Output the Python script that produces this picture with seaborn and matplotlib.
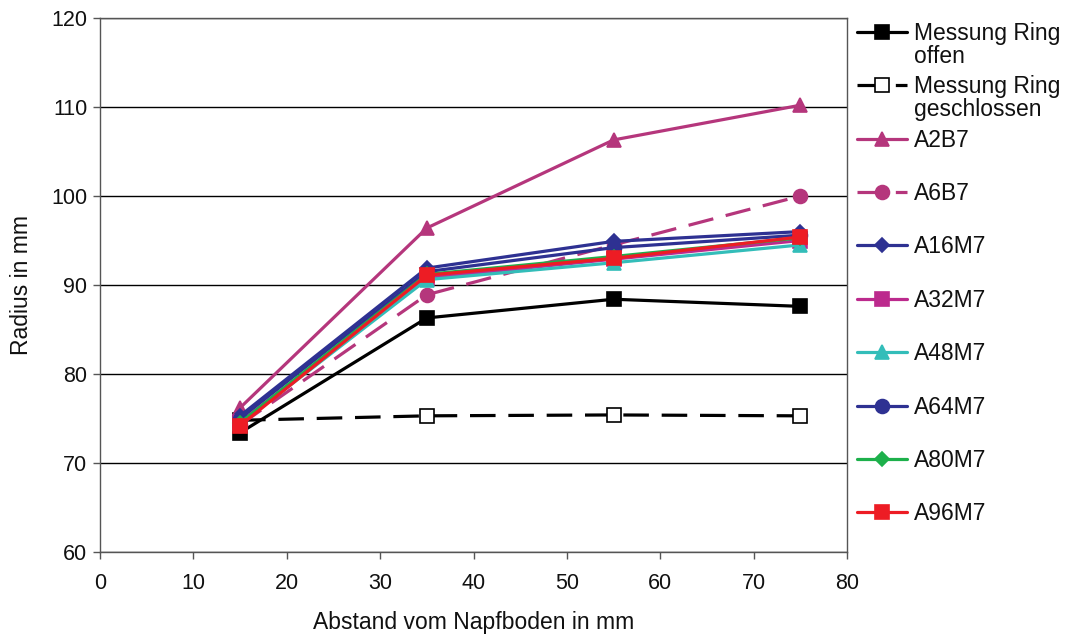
import matplotlib
matplotlib.use("Agg")
import matplotlib.pyplot as plt
import numpy as np
import pandas as pd
import seaborn as sns

# Measurement positions (distance from cup bottom, mm)
abstand = [15, 35, 55, 75]

# Radius values (mm) per series
ring_offen = [73.4, 86.3, 88.4, 87.6]
ring_geschlossen = [74.8, 75.3, 75.4, 75.3]
a2b7 = [76.2, 96.4, 106.3, 110.2]
a6b7 = [74.3, 88.9, 94.5, 100.0]
a16m7 = [75.3, 91.9, 94.9, 96.0]
a32m7 = [74.6, 90.8, 92.9, 95.0]
a48m7 = [74.4, 90.6, 92.5, 94.5]
a64m7 = [75.0, 91.5, 94.2, 95.6]
a80m7 = [74.5, 91.2, 93.2, 95.3]
a96m7 = [74.2, 91.1, 93.0, 95.4]

series_names = ["Messung Ring offen", "Messung Ring geschlossen", "A2B7", "A6B7",
                "A16M7", "A32M7", "A48M7", "A64M7", "A80M7", "A96M7"]
series_values = [ring_offen, ring_geschlossen, a2b7, a6b7, a16m7, a32m7,
                 a48m7, a64m7, a80m7, a96m7]

df = pd.DataFrame({
    "Abstand": np.tile(abstand, len(series_names)),
    "Radius": np.concatenate(series_values),
    "Serie": np.repeat(series_names, len(abstand)),
})

# Line/marker styling per series
LONG_DASH = (8, 4)
styles = {
    "Messung Ring offen": dict(color="#000000", marker="s", mfc="#000000", mec="#000000", ms=10, dashes=None),
    "Messung Ring geschlossen": dict(color="#000000", marker="s", mfc="white", mec="#000000", ms=10, dashes=LONG_DASH),
    "A2B7": dict(color="#B5367C", marker="^", mfc="#B5367C", mec="#B5367C", ms=10, dashes=None),
    "A6B7": dict(color="#B5367C", marker="o", mfc="#B5367C", mec="#B5367C", ms=10, dashes=LONG_DASH),
    "A16M7": dict(color="#2E3192", marker="D", mfc="#2E3192", mec="#2E3192", ms=7.5, dashes=None),
    "A32M7": dict(color="#BC2A8D", marker="s", mfc="#BC2A8D", mec="#BC2A8D", ms=9.5, dashes=None),
    "A48M7": dict(color="#33BDB9", marker="^", mfc="#33BDB9", mec="#33BDB9", ms=10, dashes=None),
    "A64M7": dict(color="#2E3192", marker="o", mfc="#2E3192", mec="#2E3192", ms=10, dashes=None),
    "A80M7": dict(color="#1DB04B", marker="D", mfc="#1DB04B", mec="#1DB04B", ms=7.5, dashes=None),
    "A96M7": dict(color="#ED1C24", marker="s", mfc="#ED1C24", mec="#ED1C24", ms=10, dashes=None),
}

sns.set_theme(style="white")
plt.rcParams["font.family"] = ["Liberation Sans", "DejaVu Sans"]

W, H = 1071, 637
FS_TICK = 15.5
FS_LABEL = 16.5
FS_LEG = 16.5

fig = plt.figure(figsize=(W / 100, H / 100), dpi=100)
ax = fig.add_axes([100 / W, 1 - 552 / H, (847 - 100) / W, (552 - 18) / H])

for name in series_names:
    st = styles[name]
    sub = df[df["Serie"] == name]
    kws = dict(color=st["color"], marker=st["marker"], markerfacecolor=st["mfc"],
               markeredgecolor=st["mec"], markersize=st["ms"], markeredgewidth=1.2,
               linewidth=2.3, label=name)
    sns.lineplot(data=sub, x="Abstand", y="Radius", ax=ax, sort=False, **kws)
    line = ax.lines[-1]
    if st["dashes"] is not None:
        line.set_dashes(st["dashes"])

ax.set_xlim(0, 80)
ax.set_ylim(60, 120)
ax.set_xticks(np.arange(0, 81, 10))
ax.set_yticks(np.arange(60, 121, 10))
ax.yaxis.grid(True, color="#000000", linewidth=1.0)
ax.set_axisbelow(True)
for sp in ax.spines.values():
    sp.set_color("#555555")
    sp.set_linewidth(1.0)
ax.tick_params(axis="both", direction="out", length=5, width=1.0, color="#555555",
               labelsize=FS_TICK, labelcolor="#111111", left=True, bottom=True)
ax.tick_params(axis="x", pad=10)
ax.tick_params(axis="y", pad=4)
ax.set_xlabel("Abstand vom Napfboden in mm", fontsize=FS_LABEL, color="#111111", labelpad=12)
ax.set_ylabel("Radius in mm", fontsize=FS_LABEL, color="#111111", labelpad=13)

# Legend: first line of each entry next to its handle
handles, labels = ax.get_legend_handles_labels()
first_lines = ["Messung Ring", "Messung Ring"] + labels[2:]
leg = fig.legend(handles, first_lines, loc="upper left",
                 bbox_to_anchor=(857 / W, 1 - 22 / H), frameon=False,
                 fontsize=FS_LEG, handlelength=2.2, handletextpad=0.27,
                 labelspacing=1.325, borderpad=0, borderaxespad=0)
for t in leg.get_texts():
    t.set_color("#111111")
if ax.get_legend() is not None:
    ax.get_legend().remove()

fig.canvas.draw()
renderer = fig.canvas.get_renderer()
for idx, second in [(0, "offen"), (1, "geschlossen")]:
    txt = leg.get_texts()[idx]
    bb = txt.get_window_extent(renderer)
    _, _, descent = renderer.get_text_width_height_descent("lp", txt.get_fontproperties(), ismath=False)
    baseline = bb.y0 + descent
    fig.text(bb.x0 / W, (baseline - 23) / H, second, va="baseline", ha="left",
             fontsize=FS_LEG, color="#111111")

fig.savefig("out.png", dpi=100)
